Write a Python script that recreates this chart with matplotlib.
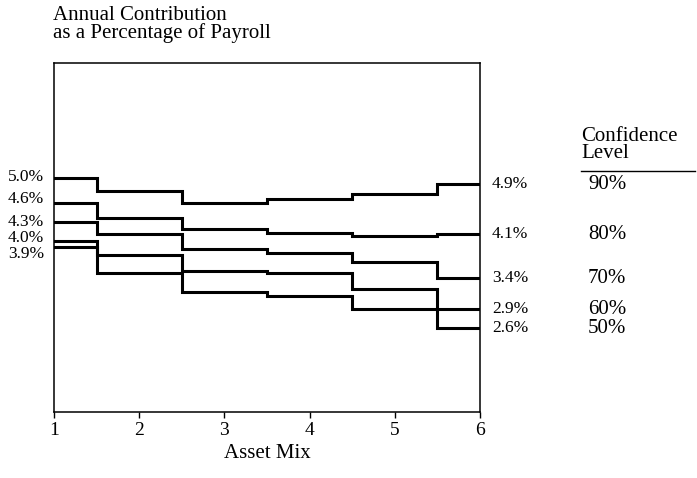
import matplotlib
matplotlib.use('Agg')
import matplotlib.pyplot as plt
from matplotlib.transforms import offset_copy

plt.rcParams['font.family'] = ['Liberation Serif', 'DejaVu Serif']

# datos
mezcla = [1, 2, 3, 4, 5, 6]
niveles = ['90%', '80%', '70%', '60%', '50%']
c90 = [5.0, 4.79, 4.61, 4.66, 4.75, 4.9]
c80 = [4.6, 4.36, 4.18, 4.12, 4.07, 4.1]
c70 = [4.3, 4.1, 3.87, 3.8, 3.66, 3.4]
c60 = [4.0, 3.77, 3.51, 3.48, 3.23, 2.9]
c50 = [3.9, 3.48, 3.18, 3.11, 2.9, 2.6]
series = [c90, c80, c70, c60, c50]

fig = plt.figure(figsize=(6.97, 4.78), dpi=100)
ax = fig.add_axes([0.0775, 0.138, 0.611, 0.730])

for s in series:
    ax.step(mezcla, s, where='mid', color='black', lw=2.2, solid_joinstyle='miter')

ax.set_xlim(1, 6)
ax.set_ylim(1.26, 6.84)
ax.set_yticks([])
ax.set_xticks(mezcla)
ax.set_xticklabels([str(m) for m in mezcla], fontsize=14)
ax.tick_params(axis='x', direction='out', length=4, width=1, pad=3)
for sp in ax.spines.values():
    sp.set_linewidth(1.1)
ax.set_xlabel('Asset Mix', fontsize=15, labelpad=4)

# etiquetas de la izquierda, algo separadas para que no se pisen
despl_izq = [1, 3, 0, 2, -5]
for s, d in zip(series, despl_izq):
    tr = offset_copy(ax.get_yaxis_transform(), fig=fig, x=-7, y=d, units='points')
    ax.text(0, s[0], f'{s[0]:.1f}%', ha='right', va='center', fontsize=12.5,
            transform=tr, clip_on=False)

# etiquetas de la derecha
for s, n in zip(series, niveles):
    ax.text(6.14, s[-1], f'{s[-1]:.1f}%', ha='left', va='center', fontsize=12.5,
            clip_on=False)
    ax.text(7.27, s[-1], n, ha='left', va='center', fontsize=15, clip_on=False)

fig.text(581 / 697, 1 - 127 / 478, 'Confidence\nLevel', ha='left', va='top',
         fontsize=15, linespacing=0.85)
fig.add_artist(plt.Line2D([581 / 697, 695 / 697], [1 - 171 / 478, 1 - 171 / 478],
                          color='black', lw=1))

fig.text(53 / 697, 1 - 6 / 478, 'Annual Contribution\nas a Percentage of Payroll',
         ha='left', va='top', fontsize=15, linespacing=0.88)

fig.savefig('out.png', dpi=100)
